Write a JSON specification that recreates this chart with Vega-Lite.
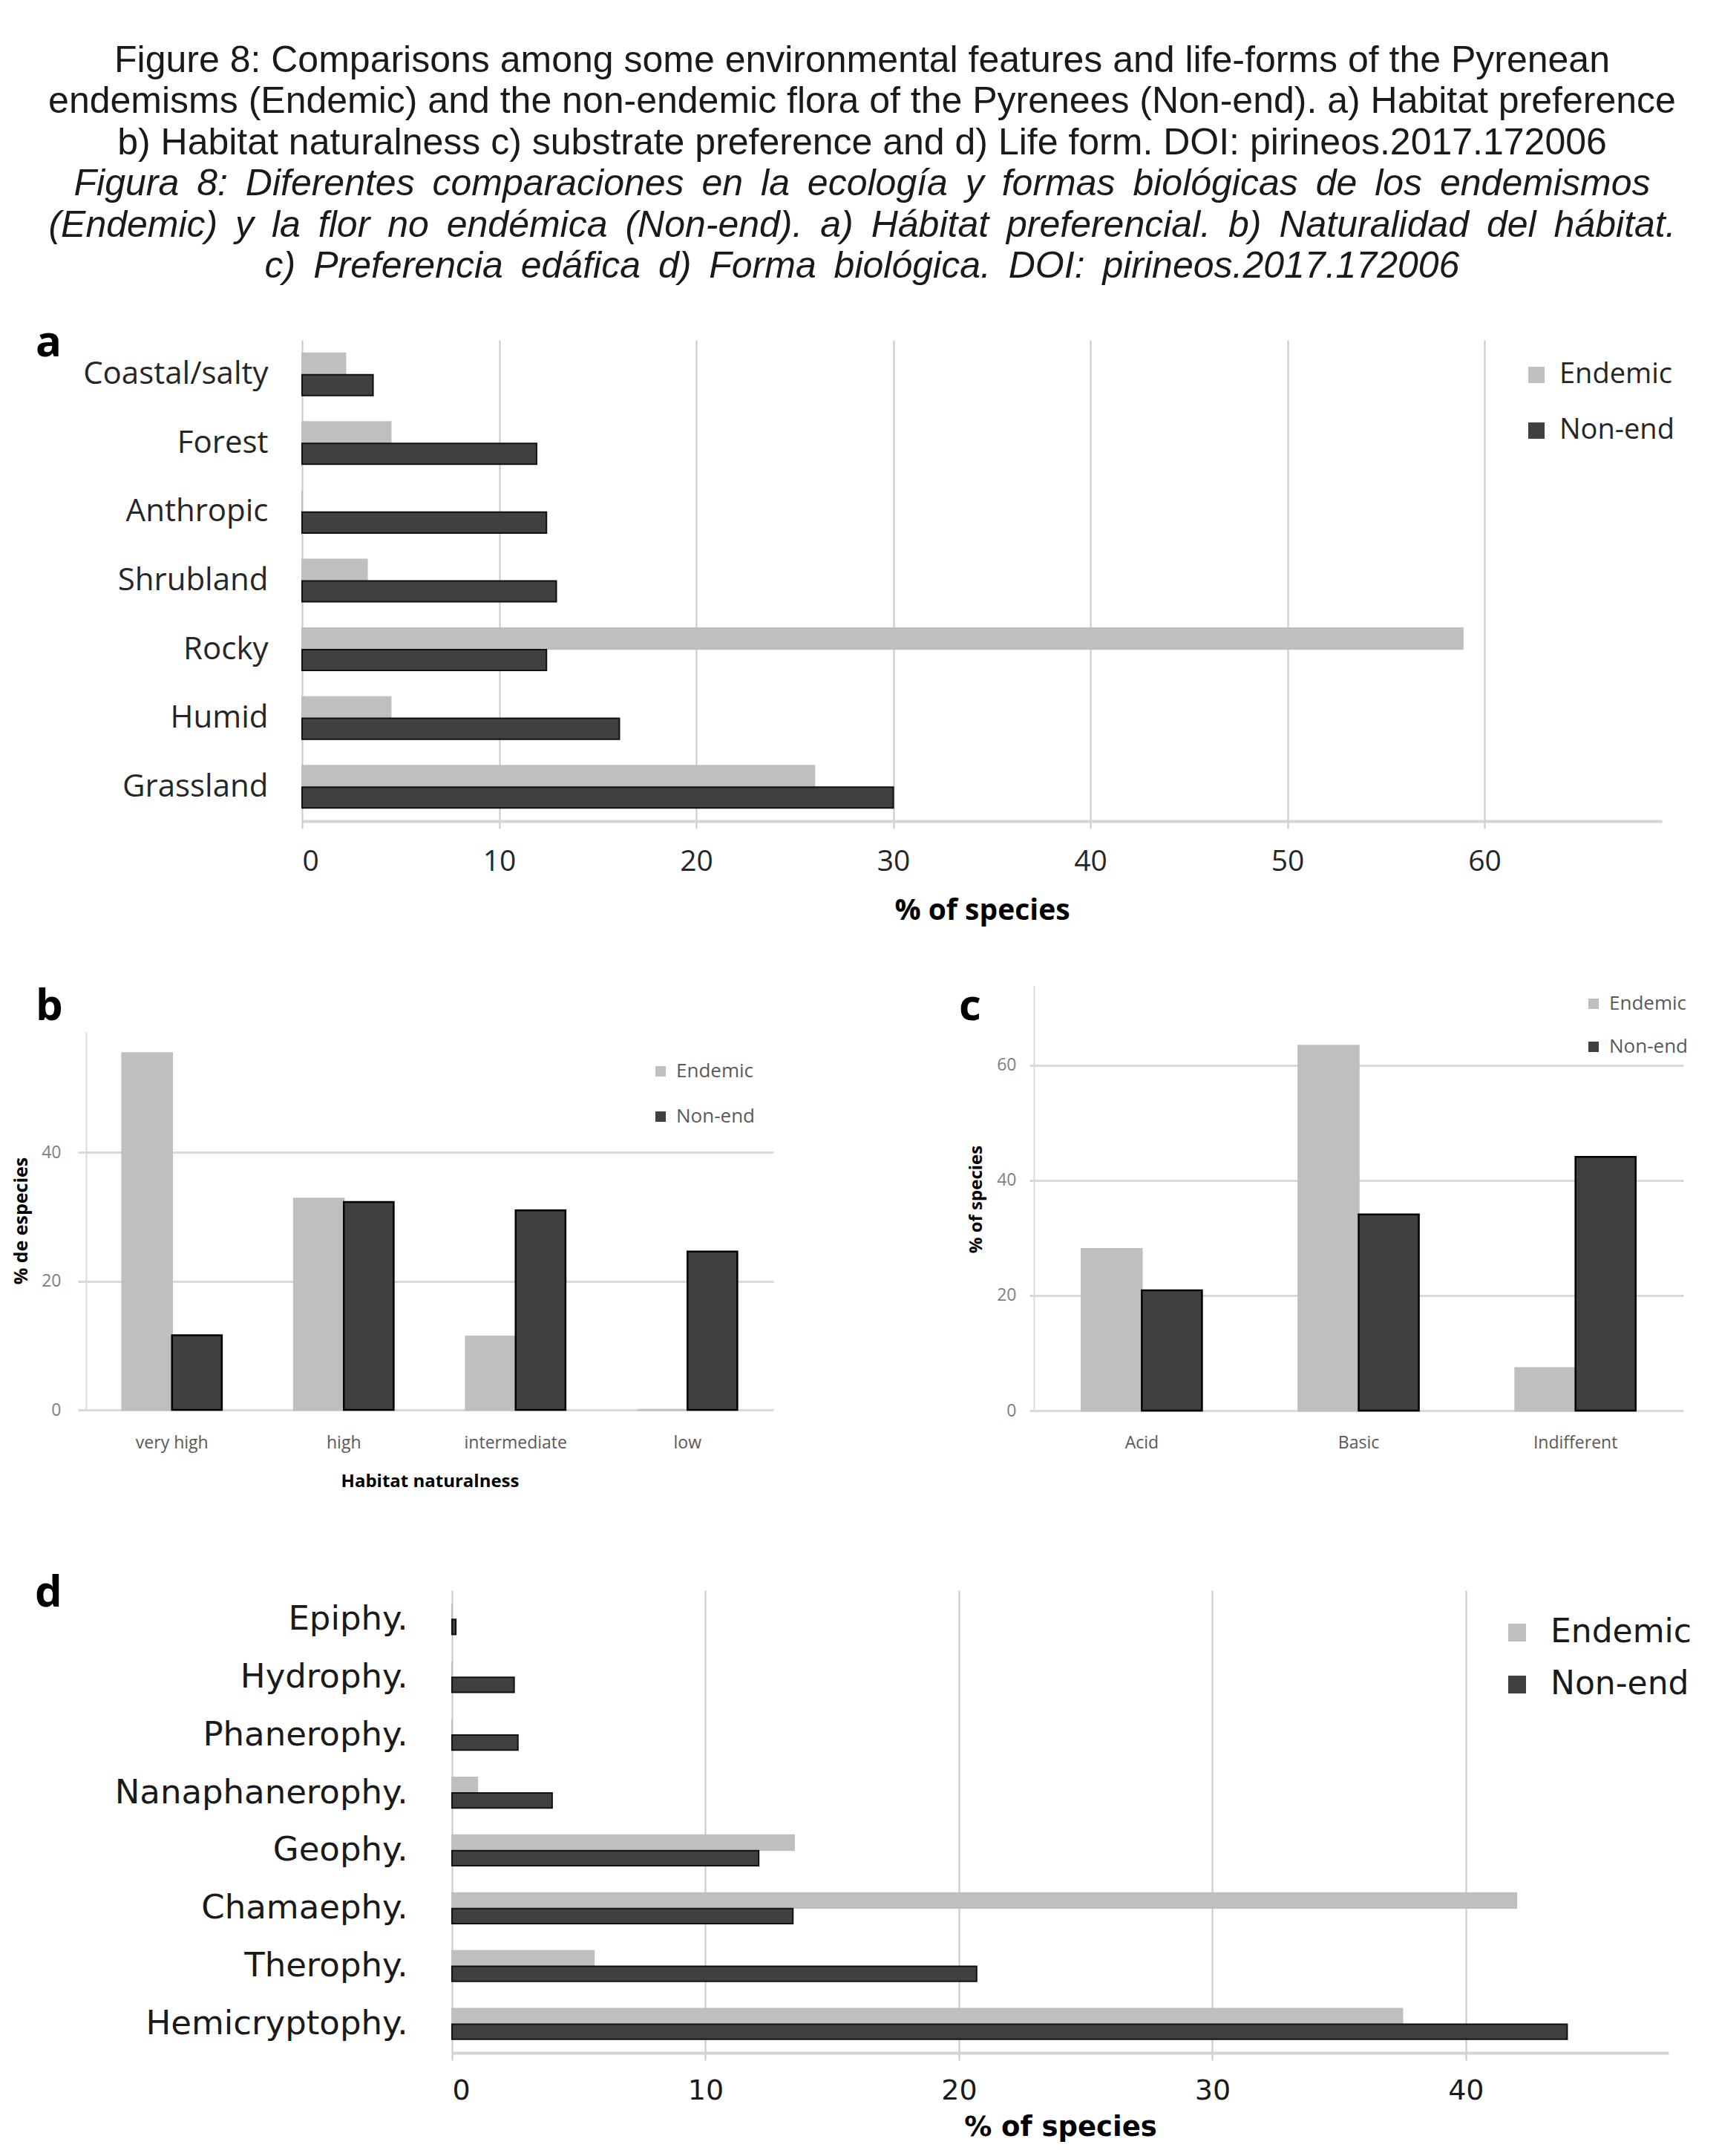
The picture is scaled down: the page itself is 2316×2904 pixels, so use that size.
{
  "$schema": "https://vega.github.io/schema/vega-lite/v6.json",
  "background": "white",
  "padding": {"left": 16, "top": 56, "right": 10, "bottom": 10},
  "title": {
    "text": ["Figure 8: Comparisons among some environmental features and life-forms of the Pyrenean", "endemisms (Endemic) and the non-endemic flora of the Pyrenees (Non-end). a) Habitat preference", "b) Habitat naturalness c) substrate preference and d) Life form. DOI: pirineos.2017.172006"],
    "subtitle": ["Figura \u20098: \u2009Diferentes \u2009comparaciones \u2009en \u2009la \u2009ecología \u2009y \u2009formas \u2009biológicas \u2009de \u2009los \u2009endemismos", "(Endemic) \u2009y \u2009la \u2009flor \u2009no \u2009endémica \u2009(Non-end). \u2009a) \u2009Hábitat \u2009preferencial. \u2009b) \u2009Naturalidad \u2009del \u2009hábitat.", "c) \u2009Preferencia \u2009edáfica \u2009d) \u2009Forma \u2009biológica. \u2009DOI: \u2009pirineos.2017.172006"],
    "anchor": "middle",
    "dx": 14,
    "font": "Liberation Sans", "fontSize": 50, "fontWeight": "normal", "color": "#1a1a1a", "lineHeight": 55.5,
    "subtitleFont": "Liberation Sans", "subtitleFontSize": 50, "subtitleFontStyle": "italic", "subtitleColor": "#1a1a1a", "subtitleLineHeight": 55.5, "subtitlePadding": 5.5,
    "offset": 50
  },
  "datasets": {
    "habitat": [
      {"category": "Coastal/salty", "group": "Endemic", "value": 2.2},
      {"category": "Coastal/salty", "group": "Non-end", "value": 3.6},
      {"category": "Forest", "group": "Endemic", "value": 4.5},
      {"category": "Forest", "group": "Non-end", "value": 11.9},
      {"category": "Anthropic", "group": "Endemic", "value": 0},
      {"category": "Anthropic", "group": "Non-end", "value": 12.4},
      {"category": "Shrubland", "group": "Endemic", "value": 3.3},
      {"category": "Shrubland", "group": "Non-end", "value": 12.9},
      {"category": "Rocky", "group": "Endemic", "value": 58.9},
      {"category": "Rocky", "group": "Non-end", "value": 12.4},
      {"category": "Humid", "group": "Endemic", "value": 4.5},
      {"category": "Humid", "group": "Non-end", "value": 16.1},
      {"category": "Grassland", "group": "Endemic", "value": 26.0},
      {"category": "Grassland", "group": "Non-end", "value": 30.0}
    ],
    "naturalness": [
      {"category": "very high", "group": "Endemic", "value": 55.4},
      {"category": "very high", "group": "Non-end", "value": 11.6},
      {"category": "high", "group": "Endemic", "value": 32.8},
      {"category": "high", "group": "Non-end", "value": 32.3},
      {"category": "intermediate", "group": "Endemic", "value": 11.4},
      {"category": "intermediate", "group": "Non-end", "value": 31.0},
      {"category": "low", "group": "Endemic", "value": 0},
      {"category": "low", "group": "Non-end", "value": 24.6}
    ],
    "substrate": [
      {"category": "Acid", "group": "Endemic", "value": 28.1},
      {"category": "Acid", "group": "Non-end", "value": 20.9},
      {"category": "Basic", "group": "Endemic", "value": 63.4},
      {"category": "Basic", "group": "Non-end", "value": 34.1},
      {"category": "Indifferent", "group": "Endemic", "value": 7.4},
      {"category": "Indifferent", "group": "Non-end", "value": 44.1}
    ],
    "lifeform": [
      {"category": "Epiphy.", "group": "Endemic", "value": 0},
      {"category": "Epiphy.", "group": "Non-end", "value": 0.15},
      {"category": "Hydrophy.", "group": "Endemic", "value": 0},
      {"category": "Hydrophy.", "group": "Non-end", "value": 2.45},
      {"category": "Phanerophy.", "group": "Endemic", "value": 0},
      {"category": "Phanerophy.", "group": "Non-end", "value": 2.6},
      {"category": "Nanaphanerophy.", "group": "Endemic", "value": 1.0},
      {"category": "Nanaphanerophy.", "group": "Non-end", "value": 3.95},
      {"category": "Geophy.", "group": "Endemic", "value": 13.5},
      {"category": "Geophy.", "group": "Non-end", "value": 12.1},
      {"category": "Chamaephy.", "group": "Endemic", "value": 42.0},
      {"category": "Chamaephy.", "group": "Non-end", "value": 13.45},
      {"category": "Therophy.", "group": "Endemic", "value": 5.6},
      {"category": "Therophy.", "group": "Non-end", "value": 20.7},
      {"category": "Hemicryptophy.", "group": "Endemic", "value": 37.5},
      {"category": "Hemicryptophy.", "group": "Non-end", "value": 44.0}
    ]
  },
  "resolve": {"scale": {"color": "independent", "stroke": "independent", "xOffset": "independent", "yOffset": "independent"}, "legend": {"color": "independent"}},
  "spacing": 10,
  "vconcat": [
    {
      "bounds": "flush",
      "spacing": 281,
      "resolve": {"scale": {"color": "independent", "stroke": "independent", "xOffset": "independent", "yOffset": "independent"}, "legend": {"color": "independent"}},
      "hconcat": [
        {"width": 10, "height": 10, "data": {"values": []}, "mark": {"type": "point", "opacity": 0}},
        {
          "width": 1832, "height": 648,
          "data": {"name": "habitat"},
          "title": {"text": "a", "anchor": "start", "frame": "group", "dx": -359, "dy": 80, "offset": 0, "baseline": "alphabetic", "font": "Open Sans", "fontSize": 58, "fontWeight": "bold", "color": "#000000"},
          "mark": {"type": "bar", "strokeWidth": 2},
          "encoding": {
            "y": {"field": "category", "type": "nominal", "sort": ["Coastal/salty", "Forest", "Anthropic", "Shrubland", "Rocky", "Humid", "Grassland"],
                  "scale": {"paddingInner": 0.384, "paddingOuter": 0.192},
                  "axis": {"title": null, "labelFont": "Open Sans", "labelFontSize": 42, "labelColor": "#262626", "labelPadding": 46, "ticks": false, "domain": false, "labelLimit": 0}},
            "yOffset": {"field": "group", "type": "nominal", "sort": ["Endemic", "Non-end"], "scale": {"paddingInner": 0.03}},
            "x": {"field": "value", "type": "quantitative", "scale": {"domain": [0, 69], "nice": false},
                  "axis": {"values": [0, 10, 20, 30, 40, 50, 60], "title": "% of species", "grid": true, "gridColor": "#c8c8c8", "gridWidth": 2, "domainColor": "#d4d4d4", "domainWidth": 4, "tickColor": "#c8c8c8", "tickSize": 10, "tickWidth": 2, "labelFont": "Open Sans", "labelFontSize": 39, "labelColor": "#262626", "labelPadding": 25, "titleFont": "Open Sans", "titleFontSize": 39, "titleFontWeight": "bold", "titleColor": "#000000", "titlePadding": 27}},
            "color": {"field": "group", "type": "nominal", "scale": {"domain": ["Endemic", "Non-end"], "range": ["#bfbfbf", "#404040"]},
                      "legend": {"orient": "none", "legendX": 1644, "legendY": 28, "title": null, "symbolType": "square", "symbolSize": 484, "symbolStrokeWidth": 0, "labelFont": "Open Sans", "labelFontSize": 38, "labelColor": "#262626", "labelOffset": 12, "rowPadding": 37, "labelLimit": 500}},
            "stroke": {"field": "group", "type": "nominal", "scale": {"domain": ["Endemic", "Non-end"], "range": ["#bfbfbf", "#111111"]}, "legend": null}
          }
        }
      ]
    },
    {"width": 10, "height": 62, "data": {"values": []}, "mark": {"type": "point", "opacity": 0}},
    {
      "bounds": "flush",
      "spacing": 351,
      "resolve": {"scale": {"color": "independent", "stroke": "independent", "xOffset": "independent", "yOffset": "independent"}, "legend": {"color": "independent"}},
      "hconcat": [
        {
          "width": 926, "height": 572,
          "data": {"name": "naturalness"},
          "title": {"text": "b", "anchor": "start", "frame": "group", "dx": -68, "dy": 104, "offset": 0, "baseline": "alphabetic", "font": "Open Sans", "fontSize": 58, "fontWeight": "bold", "color": "#000000"},
          "mark": {"type": "bar", "strokeWidth": 2.5},
          "encoding": {
            "x": {"field": "category", "type": "nominal", "sort": ["very high", "high", "intermediate", "low"],
                  "scale": {"paddingInner": 0.42, "paddingOuter": 0.21},
                  "axis": {"title": "Habitat naturalness", "labelAngle": 0, "labelFont": "Open Sans", "labelFontSize": 23, "labelColor": "#595959", "labelPadding": 32, "ticks": false, "domain": false, "titleFont": "Open Sans", "titleFontSize": 24, "titleFontWeight": "bold", "titleColor": "#000000", "titlePadding": 28}},
            "xOffset": {"field": "group", "type": "nominal", "sort": ["Endemic", "Non-end"]},
            "y": {"field": "value", "type": "quantitative", "scale": {"domain": [0, 58.7], "range": [571, 62], "nice": false},
                  "axis": {"values": [0, 20, 40], "title": "% de especies", "titleX": -88, "titleY": 316, "titleAngle": 270, "titleAlign": "center", "titleBaseline": "middle", "titleFont": "Open Sans", "titleFontSize": 25, "titleFontWeight": "bold", "titleColor": "#000000", "grid": true, "gridColor": "#d9d9d9", "gridWidth": 3, "domainColor": "#d9d9d9", "domainWidth": 2, "tickColor": "#d9d9d9", "tickSize": 11, "tickWidth": 3, "labelFont": "Open Sans", "labelFontSize": 23, "labelColor": "#7f7f7f", "labelPadding": 23}},
            "color": {"field": "group", "type": "nominal", "scale": {"domain": ["Endemic", "Non-end"], "range": ["#bfbfbf", "#404040"]},
                      "legend": {"orient": "none", "legendX": 761, "legendY": 102, "title": null, "symbolType": "square", "symbolSize": 196, "symbolStrokeWidth": 0, "labelFont": "Open Sans", "labelFontSize": 26, "labelColor": "#595959", "labelOffset": 8, "rowPadding": 35, "labelLimit": 500}},
            "stroke": {"field": "group", "type": "nominal", "scale": {"domain": ["Endemic", "Non-end"], "range": ["#bfbfbf", "#000000"]}, "legend": null}
          }
        },
        {
          "width": 875, "height": 572,
          "data": {"name": "substrate"},
          "title": {"text": "c", "anchor": "start", "frame": "group", "dx": -101, "dy": 104, "offset": 0, "baseline": "alphabetic", "font": "Open Sans", "fontSize": 58, "fontWeight": "bold", "color": "#000000"},
          "mark": {"type": "bar", "strokeWidth": 2.5},
          "encoding": {
            "x": {"field": "category", "type": "nominal", "sort": ["Acid", "Basic", "Indifferent"],
                  "scale": {"paddingInner": 0.445, "paddingOuter": 0.22},
                  "axis": {"title": null, "labelAngle": 0, "labelFont": "Open Sans", "labelFontSize": 23, "labelColor": "#595959", "labelPadding": 32, "ticks": false, "domain": false}},
            "xOffset": {"field": "group", "type": "nominal", "sort": ["Endemic", "Non-end"]},
            "y": {"field": "value", "type": "quantitative", "scale": {"domain": [0, 73.8], "nice": false},
                  "axis": {"values": [0, 20, 40, 60], "title": "% of species", "titleX": -78, "titleY": 287, "titleAngle": 270, "titleAlign": "center", "titleBaseline": "middle", "titleFont": "Open Sans", "titleFontSize": 24, "titleFontWeight": "bold", "titleColor": "#000000", "grid": true, "gridColor": "#d9d9d9", "gridWidth": 3, "domainColor": "#d9d9d9", "domainWidth": 2, "tickColor": "#d9d9d9", "tickSize": 6, "tickWidth": 3, "labelFont": "Open Sans", "labelFontSize": 23, "labelColor": "#7f7f7f", "labelPadding": 18}},
            "color": {"field": "group", "type": "nominal", "scale": {"domain": ["Endemic", "Non-end"], "range": ["#bfbfbf", "#404040"]},
                      "legend": {"orient": "none", "legendX": 741, "legendY": 11, "title": null, "symbolType": "square", "symbolSize": 196, "symbolStrokeWidth": 0, "labelFont": "Open Sans", "labelFontSize": 26, "labelColor": "#595959", "labelOffset": 8, "rowPadding": 32, "labelLimit": 500}},
            "stroke": {"field": "group", "type": "nominal", "scale": {"domain": ["Endemic", "Non-end"], "range": ["#bfbfbf", "#000000"]}, "legend": null}
          }
        }
      ]
    },
    {"width": 10, "height": 91, "data": {"values": []}, "mark": {"type": "point", "opacity": 0}},
    {
      "bounds": "flush",
      "spacing": 483,
      "resolve": {"scale": {"color": "independent", "stroke": "independent", "xOffset": "independent", "yOffset": "independent"}, "legend": {"color": "independent"}},
      "hconcat": [
        {"width": 10, "height": 10, "data": {"values": []}, "mark": {"type": "point", "opacity": 0}},
        {
          "width": 1639, "height": 623,
          "data": {"name": "lifeform"},
          "title": {"text": "d", "anchor": "start", "frame": "group", "dx": -562, "dy": 80, "offset": 0, "baseline": "alphabetic", "font": "Open Sans", "fontSize": 58, "fontWeight": "bold", "color": "#000000"},
          "mark": {"type": "bar", "strokeWidth": 2},
          "encoding": {
            "y": {"field": "category", "type": "nominal", "sort": ["Epiphy.", "Hydrophy.", "Phanerophy.", "Nanaphanerophy.", "Geophy.", "Chamaephy.", "Therophy.", "Hemicryptophy."],
                  "scale": {"paddingInner": 0.47, "paddingOuter": 0.235},
                  "axis": {"title": null, "labelFont": "DejaVu Sans", "labelFontSize": 45, "labelColor": "#1a1a1a", "labelPadding": 60, "ticks": false, "domain": false, "labelLimit": 0}},
            "yOffset": {"field": "group", "type": "nominal", "sort": ["Endemic", "Non-end"], "scale": {"paddingInner": 0.03}},
            "x": {"field": "value", "type": "quantitative", "scale": {"domain": [0, 48], "nice": false},
                  "axis": {"values": [0, 10, 20, 30, 40], "title": "% of species", "grid": true, "gridColor": "#c8c8c8", "gridWidth": 2, "domainColor": "#d4d4d4", "domainWidth": 4, "tickColor": "#c8c8c8", "tickSize": 10, "tickWidth": 2, "labelFont": "DejaVu Sans", "labelFontSize": 38, "labelColor": "#1a1a1a", "labelPadding": 22, "titleFont": "DejaVu Sans", "titleFontSize": 37, "titleFontWeight": "bold", "titleColor": "#000000", "titlePadding": 12}},
            "color": {"field": "group", "type": "nominal", "scale": {"domain": ["Endemic", "Non-end"], "range": ["#bfbfbf", "#404040"]},
                      "legend": {"orient": "none", "legendX": 1413, "legendY": 35, "title": null, "symbolType": "square", "symbolSize": 576, "symbolStrokeWidth": 0, "labelFont": "DejaVu Sans", "labelFontSize": 44, "labelColor": "#1a1a1a", "labelOffset": 23, "rowPadding": 26, "labelLimit": 500}},
            "stroke": {"field": "group", "type": "nominal", "scale": {"domain": ["Endemic", "Non-end"], "range": ["#bfbfbf", "#111111"]}, "legend": null}
          }
        }
      ]
    }
  ],
  "config": {
    "view": {"stroke": null},
    "axis": {"labelFont": "Open Sans", "titleFont": "Open Sans"},
    "legend": {"labelFont": "Open Sans"}
  }
}
